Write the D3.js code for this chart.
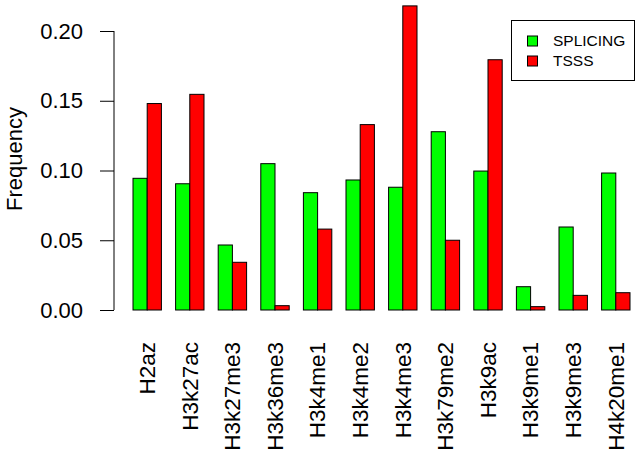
<!DOCTYPE html>
<html>
<head>
<meta charset="utf-8">
<script src="https://cdn.jsdelivr.net/npm/d3@7"></script>
<style>
  body { margin: 0; background: #fff; }
  text { font-family: "Liberation Sans", Arial, sans-serif; }
</style>
</head>
<body>
<div id="chart"></div>
<script>
// data
var marks = ["H2az", "H3k27ac", "H3k27me3", "H3k36me3", "H3k4me1", "H3k4me2",
             "H3k4me3", "H3k79me2", "H3k9ac", "H3k9me1", "H3k9me3", "H4k20me1"];
var series = ["SPLICING", "TSSS"];
var splicing = [0.0944, 0.0905, 0.0466, 0.1049, 0.0841, 0.0932, 0.0880, 0.1278, 0.0996, 0.0167, 0.0595, 0.0982];
var tsss     = [0.1480, 0.1546, 0.0342, 0.0031, 0.0580, 0.1329, 0.2180, 0.0500, 0.1794, 0.0024, 0.0105, 0.0124];
var yTicks = [0, 0.05, 0.10, 0.15, 0.20];
var colors = ["#00ff00", "#ff0000"];

var width = 642, height = 461;
var svg = d3.select("#chart")
  .append("svg")
    .attr("width", width)
    .attr("height", height);

// scales
var x = d3.scaleBand()
    .domain(marks)
    .range([133, 630])
    .paddingInner(1 / 3)
    .paddingOuter(0);

var xs = d3.scaleBand()
    .domain(series)
    .range([0, x.bandwidth()]);

var y = d3.scaleLinear()
    .domain([0, 0.2])
    .range([310, 31]);

// y axis
var yAxis = svg.append("g")
    .attr("transform", "translate(114,0)")
    .call(d3.axisLeft(y).tickValues(yTicks).tickFormat(d3.format(".2f")).tickSize(14).tickPadding(17));
yAxis.select(".domain").attr("d", "M-0.5," + y(0) + "V" + y(0.2)).attr("stroke", "#000").attr("transform", "translate(0.5,0)");
yAxis.selectAll(".tick line").attr("stroke", "#000");
yAxis.selectAll(".tick text").attr("font-size", 22).attr("fill", "#000")
    .attr("font-family", "Liberation Sans, Arial, sans-serif");

svg.append("text")
    .attr("transform", "translate(22,159) rotate(-90)")
    .attr("text-anchor", "middle")
    .attr("font-size", 22)
    .text("Frequency");

// bars
var rows = marks.map(function(m, i) {
  return { mark: m, values: [splicing[i], tsss[i]] };
});

var groups = svg.selectAll("g.grp")
  .data(rows)
  .enter()
  .append("g")
    .attr("class", "grp")
    .attr("transform", function(d) { return "translate(" + x(d.mark) + ",0)"; });

groups.selectAll("rect")
  .data(function(d) { return d.values.map(function(v, j) { return { s: series[j], v: v, j: j }; }); })
  .enter()
  .append("rect")
    .attr("x", function(d) { return xs(d.s); })
    .attr("y", function(d) { return y(d.v); })
    .attr("width", xs.bandwidth())
    .attr("height", function(d) { return y(0) - y(d.v); })
    .attr("fill", function(d) { return colors[d.j]; })
    .attr("stroke", "#000")
    .attr("stroke-width", 1);

// category labels, rotated
svg.selectAll("text.cat")
  .data(marks)
  .enter()
  .append("text")
    .attr("class", "cat")
    .attr("transform", function(d) { return "translate(" + (x(d) + x.bandwidth() / 2) + ",342) rotate(-90)"; })
    .attr("text-anchor", "end")
    .attr("dy", "0.35em")
    .attr("font-size", 22.5)
    .text(function(d) { return d; });

// legend
var legend = svg.append("g");
legend.append("rect")
    .attr("x", 511.5).attr("y", 20.5)
    .attr("width", 123).attr("height", 60)
    .attr("fill", "#fff").attr("stroke", "#000");

var items = legend.selectAll("g.item")
  .data(series)
  .enter()
  .append("g")
    .attr("class", "item")
    .attr("transform", function(d, i) { return "translate(0," + (41 + i * 20) + ")"; });

items.append("rect")
    .attr("x", 527.5).attr("y", -5)
    .attr("width", 10).attr("height", 10)
    .attr("fill", function(d, i) { return colors[i]; })
    .attr("stroke", "#000");

items.append("text")
    .attr("x", 553)
    .attr("dy", "0.35em")
    .attr("font-size", 15.5)
    .text(function(d) { return d; });
</script>
</body>
</html>
